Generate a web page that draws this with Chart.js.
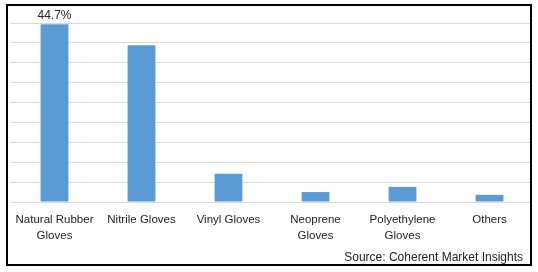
<!DOCTYPE html>
<html lang="en">
<head>
    <meta charset="UTF-8">
    <title>Gloves Market Share</title>
    <style>
        html, body { margin: 0; padding: 0; background: #fff; }
        #wrap { position: relative; width: 538px; height: 272px; }
    </style>
</head>
<body>
    <div id="wrap">
        <canvas id="myChart"></canvas>
    </div>

    <script src="https://cdn.jsdelivr.net/npm/chart.js"></script>

    <script>
        const ctx = document.getElementById('myChart');

        // categories (split into lines the way the axis shows them)
        const categories = [
            ['Natural Rubber', 'Gloves'],
            'Nitrile Gloves',
            'Vinyl Gloves',
            ['Neoprene', 'Gloves'],
            ['Polyethylene', 'Gloves'],
            'Others'
        ];
        // share in %, only the first one is printed on the chart
        const shares = [44.7, 39.4, 7.1, 2.5, 3.8, 1.8];
        const shownLabels = ['44.7%', '', '', '', '', ''];
        const sourceText = 'Source: Coherent Market Insights';

        const fontName = "'Liberation Sans', Arial, sans-serif";

        // value label above the bar + source note + frame
        const extras = {
            id: 'extras',
            afterDatasetsDraw(chart) {
                const c = chart.ctx;
                const meta = chart.getDatasetMeta(0);
                c.save();
                c.fillStyle = '#222';
                c.font = '12px ' + fontName;
                c.textAlign = 'center';
                c.textBaseline = 'middle';
                meta.data.forEach((bar, i) => {
                    if (shownLabels[i]) {
                        c.fillText(shownLabels[i], bar.x, bar.y - 9);
                    }
                });
                c.restore();
            },
            afterDraw(chart) {
                const c = chart.ctx;
                c.save();
                c.fillStyle = '#fff';
                c.fillRect(532, 0, 6, 272);
                c.fillStyle = '#222';
                c.font = '12px ' + fontName;
                c.textAlign = 'right';
                c.textBaseline = 'middle';
                c.fillText(sourceText, 523, 258);
                c.strokeStyle = '#000';
                c.lineWidth = 2;
                c.strokeRect(7, 5, 524, 260);
                c.restore();
            }
        };

        new Chart(ctx, {
            type: 'bar',
            data: {
                labels: categories,
                datasets: [{
                    data: shares,
                    backgroundColor: '#5b9bd5',
                    borderWidth: 0,
                    categoryPercentage: 1,
                    barPercentage: 0.32
                }]
            },
            options: {
                responsive: true,
                maintainAspectRatio: false,
                animation: false,
                layout: {
                    padding: { left: 11, right: 5, top: 23, bottom: 18 }
                },
                plugins: {
                    legend: { display: false },
                    tooltip: { enabled: false }
                },
                scales: {
                    x: {
                        grid: { display: false, drawTicks: false, tickLength: 0 },
                        border: { display: false },
                        ticks: {
                            color: '#222',
                            padding: 10,
                            maxRotation: 0,
                            autoSkip: false,
                            font: { family: fontName, size: 11.5, lineHeight: '16px' }
                        }
                    },
                    y: {
                        min: 0,
                        max: 45,
                        grid: { color: '#d9d9d9', lineWidth: 1, drawTicks: false, tickLength: 0 },
                        border: { display: false },
                        ticks: { display: false, stepSize: 5 }
                    }
                }
            },
            plugins: [extras]
        });
    </script>
</body>
</html>
